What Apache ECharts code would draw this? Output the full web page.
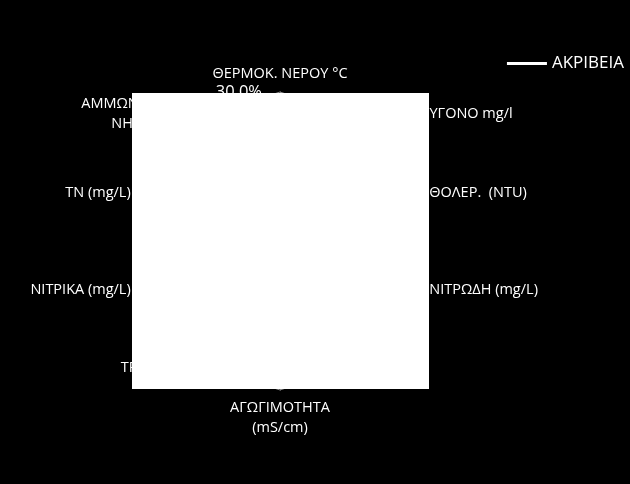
<!DOCTYPE html>
<html>
<head>
    <meta charset="utf-8">
    <title>ECharts</title>
    <script src="https://cdn.jsdelivr.net/npm/echarts@6/dist/echarts.min.js"></script>
    <style>
        html, body { margin: 0; padding: 0; background: #000; }
    </style>
</head>
<body>
    <div id="main" style="width: 630px;height:484px;"></div>
    <script type="text/javascript">
        // indicators in ECharts order (counter-clockwise from the top)
        var indicatorNames = [
            'ΘΕΡΜΟΚ. ΝΕΡΟΥ °C',
            'ΑΜΜΩΝΙΑΚΟ-Ν\nΝΗ4 (mg/L)',
            'TN (mg/L)',
            'ΝΙΤΡΙΚΑ (mg/L)',
            'TP  (mg/L)',
            'ΑΓΩΓΙΜΟΤΗΤΑ\n(mS/cm)',
            'pH',
            'ΝΙΤΡΩΔΗ (mg/L)',
            'ΘΟΛΕΡ.  (NTU)',
            'ΔΙΑΛ. ΟΞΥΓΟΝΟ mg/l'
        ];
        var seriesName = 'ΑΚΡΙΒΕΙΑ';
        // values hidden under the white box in the picture, estimated
        var accuracy = [0.12, 0.19, 0.14, 0.16, 0.20, 0.28, 0.08, 0.15, 0.22, 0.18];
        var axisMax = 0.3;
        var axisStep = 0.05;

        var myChart = echarts.init(document.getElementById('main'));
        var font = 'Open Sans';
        var pct = function (v) { return (v * 100).toFixed(1).replace('.', ',') + '%'; };

        myChart.setOption({
            backgroundColor: '#000000',
            textStyle: { fontFamily: font },
            legend: {
                right: 1,
                top: 50,
                icon: 'rect',
                itemWidth: 40,
                itemHeight: 3,
                itemGap: 5,
                textStyle: { color: '#ffffff', fontSize: 17, fontFamily: font },
                data: [seriesName]
            },
            radar: {
                center: [280, 241],
                radius: 149,
                startAngle: 90,
                splitNumber: 6,
                shape: 'polygon',
                nameGap: 8,
                axisName: { color: '#ffffff', fontSize: 14.5, fontFamily: font, lineHeight: 20 },
                axisLine: { lineStyle: { color: '#888' } },
                splitLine: { lineStyle: { color: '#888' } },
                splitArea: { show: false },
                indicator: indicatorNames.map(function (n) { return { name: n, min: 0, max: axisMax }; })
            },
            // value labels along the top spoke only
            polar: { center: [280, 241], radius: 149 },
            angleAxis: { show: false, startAngle: 90 },
            radiusAxis: {
                min: 0,
                max: axisMax,
                interval: axisStep,
                axisLine: { show: false },
                axisTick: { show: false },
                splitLine: { show: false },
                axisLabel: { color: '#ffffff', fontSize: 16.5, fontFamily: font, margin: 18, formatter: pct }
            },
            graphic: [{
                type: 'rect',
                z: 100,
                shape: { x: 132, y: 93, width: 297, height: 296 },
                style: { fill: '#ffffff' }
            }],
            series: [{
                name: seriesName,
                type: 'radar',
                symbol: 'none',
                lineStyle: { color: '#ffffff', width: 2 },
                itemStyle: { color: '#ffffff' },
                data: [{ value: accuracy, name: seriesName }]
            }]
        });
    </script>
</body>
</html>
